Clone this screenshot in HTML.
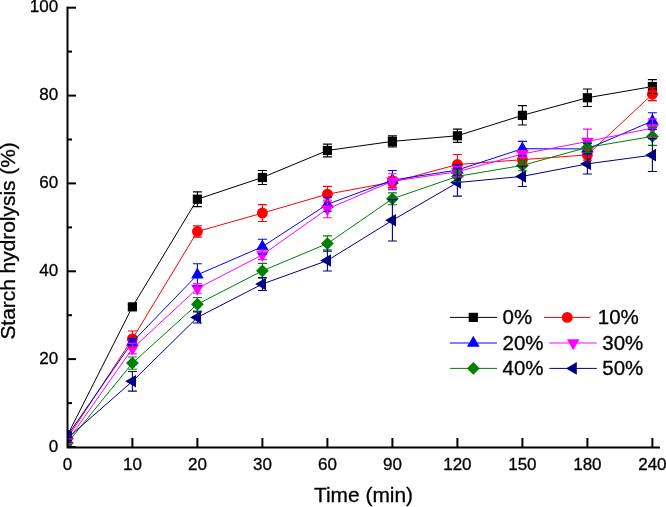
<!DOCTYPE html>
<html><head><meta charset="utf-8"><style>
html,body{margin:0;padding:0;background:#fff;}
svg{display:block;will-change:transform;}
text{font-family:"Liberation Sans",sans-serif;fill:#000;stroke:#000;stroke-width:0.3px;}
.t{font-size:17px;}
.a{font-size:20.9px;}
.l{font-size:20.5px;}
</style></head><body>
<svg width="666" height="507" viewBox="0 0 666 507">
<rect width="666" height="507" fill="#fff"/>
<defs><clipPath id="pc"><rect x="67" y="0" width="600" height="448"/></clipPath></defs>
<g clip-path="url(#pc)">
<polyline points="67.40,435.31 132.40,306.86 197.40,199.23 262.40,177.49 327.40,150.47 392.40,141.38 457.40,135.76 522.40,115.33 587.40,97.76 652.40,86.55" fill="none" stroke="#000000" stroke-width="1.0"/>
<rect x="62.80" y="430.71" width="9.2" height="9.2" fill="#000000"/>
<rect x="127.80" y="302.26" width="9.2" height="9.2" fill="#000000"/>
<rect x="192.80" y="194.63" width="9.2" height="9.2" fill="#000000"/>
<rect x="257.80" y="172.89" width="9.2" height="9.2" fill="#000000"/>
<rect x="322.80" y="145.87" width="9.2" height="9.2" fill="#000000"/>
<rect x="387.80" y="136.78" width="9.2" height="9.2" fill="#000000"/>
<rect x="452.80" y="131.16" width="9.2" height="9.2" fill="#000000"/>
<rect x="517.80" y="110.73" width="9.2" height="9.2" fill="#000000"/>
<rect x="582.80" y="93.16" width="9.2" height="9.2" fill="#000000"/>
<rect x="647.80" y="81.95" width="9.2" height="9.2" fill="#000000"/>
<polyline points="67.40,438.21 132.40,338.93 197.40,231.52 262.40,213.07 327.40,194.18 392.40,182.10 457.40,164.53 522.40,159.70 587.40,154.87 652.40,94.24" fill="none" stroke="#ff0000" stroke-width="1.0"/>
<circle cx="67.40" cy="438.21" r="5.45" fill="#ff0000"/>
<circle cx="132.40" cy="338.93" r="5.45" fill="#ff0000"/>
<circle cx="197.40" cy="231.52" r="5.45" fill="#ff0000"/>
<circle cx="262.40" cy="213.07" r="5.45" fill="#ff0000"/>
<circle cx="327.40" cy="194.18" r="5.45" fill="#ff0000"/>
<circle cx="392.40" cy="182.10" r="5.45" fill="#ff0000"/>
<circle cx="457.40" cy="164.53" r="5.45" fill="#ff0000"/>
<circle cx="522.40" cy="159.70" r="5.45" fill="#ff0000"/>
<circle cx="587.40" cy="154.87" r="5.45" fill="#ff0000"/>
<circle cx="652.40" cy="94.24" r="5.45" fill="#ff0000"/>
<polyline points="67.40,435.58 132.40,342.01 197.40,274.79 262.40,246.68 327.40,204.29 392.40,180.13 457.40,170.02 522.40,148.72 587.40,148.93 652.40,121.04" fill="none" stroke="#0000ff" stroke-width="1.0"/>
<polygon points="67.40,428.31 73.70,439.21 61.10,439.21" fill="#0000ff"/>
<polygon points="132.40,334.74 138.70,345.64 126.10,345.64" fill="#0000ff"/>
<polygon points="197.40,267.53 203.70,278.43 191.10,278.43" fill="#0000ff"/>
<polygon points="262.40,239.41 268.70,250.31 256.10,250.31" fill="#0000ff"/>
<polygon points="327.40,197.02 333.70,207.92 321.10,207.92" fill="#0000ff"/>
<polygon points="392.40,172.86 398.70,183.76 386.10,183.76" fill="#0000ff"/>
<polygon points="457.40,162.75 463.70,173.65 451.10,173.65" fill="#0000ff"/>
<polygon points="522.40,141.45 528.70,152.35 516.10,152.35" fill="#0000ff"/>
<polygon points="587.40,141.67 593.70,152.57 581.10,152.57" fill="#0000ff"/>
<polygon points="652.40,113.77 658.70,124.67 646.10,124.67" fill="#0000ff"/>
<polyline points="67.40,441.29 132.40,348.60 197.40,288.41 262.40,254.81 327.40,208.90 392.40,181.22 457.40,171.78 522.40,153.99 587.40,141.47 652.40,128.07" fill="none" stroke="#ff00ff" stroke-width="1.0"/>
<polygon points="67.40,448.56 73.70,437.66 61.10,437.66" fill="#ff00ff"/>
<polygon points="132.40,355.86 138.70,344.96 126.10,344.96" fill="#ff00ff"/>
<polygon points="197.40,295.68 203.70,284.78 191.10,284.78" fill="#ff00ff"/>
<polygon points="262.40,262.07 268.70,251.17 256.10,251.17" fill="#ff00ff"/>
<polygon points="327.40,216.17 333.70,205.27 321.10,205.27" fill="#ff00ff"/>
<polygon points="392.40,188.49 398.70,177.59 386.10,177.59" fill="#ff00ff"/>
<polygon points="457.40,179.05 463.70,168.15 451.10,168.15" fill="#ff00ff"/>
<polygon points="522.40,161.25 528.70,150.35 516.10,150.35" fill="#ff00ff"/>
<polygon points="587.40,148.73 593.70,137.83 581.10,137.83" fill="#ff00ff"/>
<polygon points="652.40,135.33 658.70,124.43 646.10,124.43" fill="#ff00ff"/>
<polyline points="67.40,443.05 132.40,363.09 197.40,304.23 262.40,270.84 327.40,243.60 392.40,198.80 457.40,176.39 522.40,165.41 587.40,147.40 652.40,136.41" fill="none" stroke="#008000" stroke-width="1.0"/>
<polygon points="67.40,436.65 73.80,443.05 67.40,449.45 61.00,443.05" fill="#008000"/>
<polygon points="132.40,356.69 138.80,363.09 132.40,369.49 126.00,363.09" fill="#008000"/>
<polygon points="197.40,297.83 203.80,304.23 197.40,310.63 191.00,304.23" fill="#008000"/>
<polygon points="262.40,264.44 268.80,270.84 262.40,277.24 256.00,270.84" fill="#008000"/>
<polygon points="327.40,237.20 333.80,243.60 327.40,250.00 321.00,243.60" fill="#008000"/>
<polygon points="392.40,192.40 398.80,198.80 392.40,205.20 386.00,198.80" fill="#008000"/>
<polygon points="457.40,169.99 463.80,176.39 457.40,182.79 451.00,176.39" fill="#008000"/>
<polygon points="522.40,159.01 528.80,165.41 522.40,171.81 516.00,165.41" fill="#008000"/>
<polygon points="587.40,141.00 593.80,147.40 587.40,153.80 581.00,147.40" fill="#008000"/>
<polygon points="652.40,130.01 658.80,136.41 652.40,142.81 646.00,136.41" fill="#008000"/>
<polyline points="67.40,438.21 132.40,381.32 197.40,317.41 262.40,284.02 327.40,260.52 392.40,220.32 457.40,182.54 522.40,176.39 587.40,163.87 652.40,155.09" fill="none" stroke="#000080" stroke-width="1.0"/>
<polygon points="60.13,438.21 71.03,431.91 71.03,444.51" fill="#000080"/>
<polygon points="125.13,381.32 136.03,375.02 136.03,387.62" fill="#000080"/>
<polygon points="190.13,317.41 201.03,311.11 201.03,323.71" fill="#000080"/>
<polygon points="255.13,284.02 266.03,277.72 266.03,290.32" fill="#000080"/>
<polygon points="320.13,260.52 331.03,254.22 331.03,266.82" fill="#000080"/>
<polygon points="385.13,220.32 396.03,214.02 396.03,226.62" fill="#000080"/>
<polygon points="450.13,182.54 461.03,176.24 461.03,188.84" fill="#000080"/>
<polygon points="515.13,176.39 526.03,170.09 526.03,182.69" fill="#000080"/>
<polygon points="580.13,163.87 591.03,157.57 591.03,170.17" fill="#000080"/>
<polygon points="645.13,155.09 656.03,148.79 656.03,161.39" fill="#000080"/>
<path d="M67.40 433.12V437.51M62.90 433.12H71.90M62.90 437.51H71.90" stroke="#000000" stroke-width="1.1" fill="none"/>
<path d="M132.40 304.23V309.50M127.90 304.23H136.90M127.90 309.50H136.90" stroke="#000000" stroke-width="1.1" fill="none"/>
<path d="M197.40 191.85V206.62M192.90 191.85H201.90M192.90 206.62H201.90" stroke="#000000" stroke-width="1.1" fill="none"/>
<path d="M262.40 170.46V184.52M257.90 170.46H266.90M257.90 184.52H266.90" stroke="#000000" stroke-width="1.1" fill="none"/>
<path d="M327.40 144.10V156.84M322.90 144.10H331.90M322.90 156.84H331.90" stroke="#000000" stroke-width="1.1" fill="none"/>
<path d="M392.40 135.89V146.87M387.90 135.89H396.90M387.90 146.87H396.90" stroke="#000000" stroke-width="1.1" fill="none"/>
<path d="M457.40 129.17V142.35M452.90 129.17H461.90M452.90 142.35H461.90" stroke="#000000" stroke-width="1.1" fill="none"/>
<path d="M522.40 105.66V124.99M517.90 105.66H526.90M517.90 124.99H526.90" stroke="#000000" stroke-width="1.1" fill="none"/>
<path d="M587.40 88.97V106.54M582.90 88.97H591.90M582.90 106.54H591.90" stroke="#000000" stroke-width="1.1" fill="none"/>
<path d="M652.40 79.66V93.45M647.90 79.66H656.90M647.90 93.45H656.90" stroke="#000000" stroke-width="1.1" fill="none"/>
<path d="M67.40 436.02V440.41M62.90 436.02H71.90M62.90 440.41H71.90" stroke="#ff0000" stroke-width="1.1" fill="none"/>
<path d="M132.40 331.02V346.84M127.90 331.02H136.90M127.90 346.84H136.90" stroke="#ff0000" stroke-width="1.1" fill="none"/>
<path d="M197.40 225.90V237.15M192.90 225.90H201.90M192.90 237.15H201.90" stroke="#ff0000" stroke-width="1.1" fill="none"/>
<path d="M262.40 204.59V221.55M257.90 204.59H266.90M257.90 221.55H266.90" stroke="#ff0000" stroke-width="1.1" fill="none"/>
<path d="M327.40 186.41V201.96M322.90 186.41H331.90M322.90 201.96H331.90" stroke="#ff0000" stroke-width="1.1" fill="none"/>
<path d="M392.40 176.83V187.37M387.90 176.83H396.90M387.90 187.37H396.90" stroke="#ff0000" stroke-width="1.1" fill="none"/>
<path d="M457.40 154.43V174.63M452.90 154.43H461.90M452.90 174.63H461.90" stroke="#ff0000" stroke-width="1.1" fill="none"/>
<path d="M522.40 155.30V164.09M517.90 155.30H526.90M517.90 164.09H526.90" stroke="#ff0000" stroke-width="1.1" fill="none"/>
<path d="M587.40 149.59V160.14M582.90 149.59H591.90M582.90 160.14H591.90" stroke="#ff0000" stroke-width="1.1" fill="none"/>
<path d="M652.40 87.87V100.61M647.90 87.87H656.90M647.90 100.61H656.90" stroke="#ff0000" stroke-width="1.1" fill="none"/>
<path d="M67.40 433.38V437.77M62.90 433.38H71.90M62.90 437.77H71.90" stroke="#0000ff" stroke-width="1.1" fill="none"/>
<path d="M132.40 338.49V345.52M127.90 338.49H136.90M127.90 345.52H136.90" stroke="#0000ff" stroke-width="1.1" fill="none"/>
<path d="M197.40 263.81V285.78M192.90 263.81H201.90M192.90 285.78H201.90" stroke="#0000ff" stroke-width="1.1" fill="none"/>
<path d="M262.40 239.21V254.15M257.90 239.21H266.90M257.90 254.15H266.90" stroke="#0000ff" stroke-width="1.1" fill="none"/>
<path d="M327.40 197.26V211.32M322.90 197.26H331.90M322.90 211.32H331.90" stroke="#0000ff" stroke-width="1.1" fill="none"/>
<path d="M392.40 170.46V189.79M387.90 170.46H396.90M387.90 189.79H396.90" stroke="#0000ff" stroke-width="1.1" fill="none"/>
<path d="M457.40 164.75V175.29M452.90 164.75H461.90M452.90 175.29H461.90" stroke="#0000ff" stroke-width="1.1" fill="none"/>
<path d="M522.40 141.42V156.01M517.90 141.42H526.90M517.90 156.01H526.90" stroke="#0000ff" stroke-width="1.1" fill="none"/>
<path d="M587.40 143.66V154.21M582.90 143.66H591.90M582.90 154.21H591.90" stroke="#0000ff" stroke-width="1.1" fill="none"/>
<path d="M652.40 112.69V129.39M647.90 112.69H656.90M647.90 129.39H656.90" stroke="#0000ff" stroke-width="1.1" fill="none"/>
<path d="M67.40 439.09V443.49M62.90 439.09H71.90M62.90 443.49H71.90" stroke="#ff00ff" stroke-width="1.1" fill="none"/>
<path d="M132.40 343.33V353.87M127.90 343.33H136.90M127.90 353.87H136.90" stroke="#ff00ff" stroke-width="1.1" fill="none"/>
<path d="M197.40 283.58V293.25M192.90 283.58H201.90M192.90 293.25H201.90" stroke="#ff00ff" stroke-width="1.1" fill="none"/>
<path d="M262.40 249.97V259.64M257.90 249.97H266.90M257.90 259.64H266.90" stroke="#ff00ff" stroke-width="1.1" fill="none"/>
<path d="M327.40 200.11V217.69M322.90 200.11H331.90M322.90 217.69H331.90" stroke="#ff00ff" stroke-width="1.1" fill="none"/>
<path d="M392.40 173.76V188.69M387.90 173.76H396.90M387.90 188.69H396.90" stroke="#ff00ff" stroke-width="1.1" fill="none"/>
<path d="M457.40 166.51V177.05M452.90 166.51H461.90M452.90 177.05H461.90" stroke="#ff00ff" stroke-width="1.1" fill="none"/>
<path d="M522.40 150.47V157.50M517.90 150.47H526.90M517.90 157.50H526.90" stroke="#ff00ff" stroke-width="1.1" fill="none"/>
<path d="M587.40 129.17V153.77M582.90 129.17H591.90M582.90 153.77H591.90" stroke="#ff00ff" stroke-width="1.1" fill="none"/>
<path d="M652.40 118.84V137.29M647.90 118.84H656.90M647.90 137.29H656.90" stroke="#ff00ff" stroke-width="1.1" fill="none"/>
<path d="M67.40 440.85V445.24M62.90 440.85H71.90M62.90 445.24H71.90" stroke="#008000" stroke-width="1.1" fill="none"/>
<path d="M132.40 356.94V369.24M127.90 356.94H136.90M127.90 369.24H136.90" stroke="#008000" stroke-width="1.1" fill="none"/>
<path d="M197.40 297.51V310.95M192.90 297.51H201.90M192.90 310.95H201.90" stroke="#008000" stroke-width="1.1" fill="none"/>
<path d="M262.40 263.37V278.31M257.90 263.37H266.90M257.90 278.31H266.90" stroke="#008000" stroke-width="1.1" fill="none"/>
<path d="M327.40 235.87V251.34M322.90 235.87H331.90M322.90 251.34H331.90" stroke="#008000" stroke-width="1.1" fill="none"/>
<path d="M392.40 192.91V204.68M387.90 192.91H396.90M387.90 204.68H396.90" stroke="#008000" stroke-width="1.1" fill="none"/>
<path d="M457.40 171.12V181.66M452.90 171.12H461.90M452.90 181.66H461.90" stroke="#008000" stroke-width="1.1" fill="none"/>
<path d="M522.40 160.14V170.68M517.90 160.14H526.90M517.90 170.68H526.90" stroke="#008000" stroke-width="1.1" fill="none"/>
<path d="M587.40 142.13V152.67M582.90 142.13H591.90M582.90 152.67H591.90" stroke="#008000" stroke-width="1.1" fill="none"/>
<path d="M652.40 127.41V145.42M647.90 127.41H656.90M647.90 145.42H656.90" stroke="#008000" stroke-width="1.1" fill="none"/>
<path d="M67.40 436.02V440.41M62.90 436.02H71.90M62.90 440.41H71.90" stroke="#000080" stroke-width="1.1" fill="none"/>
<path d="M132.40 371.48V391.16M127.90 371.48H136.90M127.90 391.16H136.90" stroke="#000080" stroke-width="1.1" fill="none"/>
<path d="M197.40 311.83V322.99M192.90 311.83H201.90M192.90 322.99H201.90" stroke="#000080" stroke-width="1.1" fill="none"/>
<path d="M262.40 277.52V290.52M257.90 277.52H266.90M257.90 290.52H266.90" stroke="#000080" stroke-width="1.1" fill="none"/>
<path d="M327.40 249.97V271.06M322.90 249.97H331.90M322.90 271.06H331.90" stroke="#000080" stroke-width="1.1" fill="none"/>
<path d="M392.40 199.67V240.97M387.90 199.67H396.90M387.90 240.97H396.90" stroke="#000080" stroke-width="1.1" fill="none"/>
<path d="M457.40 168.92V196.16M452.90 168.92H461.90M452.90 196.16H461.90" stroke="#000080" stroke-width="1.1" fill="none"/>
<path d="M522.40 166.29V186.50M517.90 166.29H526.90M517.90 186.50H526.90" stroke="#000080" stroke-width="1.1" fill="none"/>
<path d="M587.40 153.77V173.98M582.90 153.77H591.90M582.90 173.98H591.90" stroke="#000080" stroke-width="1.1" fill="none"/>
<path d="M652.40 138.61V171.56M647.90 138.61H656.90M647.90 171.56H656.90" stroke="#000080" stroke-width="1.1" fill="none"/>
</g>
<path d="M67.5 6.7V447.5H660" stroke="#000" stroke-width="2" fill="none"/>
<path d="M67 447.0H76" stroke="#000" stroke-width="2"/>
<path d="M67 403.1H72" stroke="#000" stroke-width="2"/>
<path d="M67 359.1H76" stroke="#000" stroke-width="2"/>
<path d="M67 315.2H72" stroke="#000" stroke-width="2"/>
<path d="M67 271.3H76" stroke="#000" stroke-width="2"/>
<path d="M67 227.4H72" stroke="#000" stroke-width="2"/>
<path d="M67 183.4H76" stroke="#000" stroke-width="2"/>
<path d="M67 139.5H72" stroke="#000" stroke-width="2"/>
<path d="M67 95.6H76" stroke="#000" stroke-width="2"/>
<path d="M67 51.6H72" stroke="#000" stroke-width="2"/>
<path d="M67 7.7H76" stroke="#000" stroke-width="2"/>
<path d="M132.4 447V438" stroke="#000" stroke-width="2"/>
<path d="M197.4 447V438" stroke="#000" stroke-width="2"/>
<path d="M262.4 447V438" stroke="#000" stroke-width="2"/>
<path d="M327.4 447V438" stroke="#000" stroke-width="2"/>
<path d="M392.4 447V438" stroke="#000" stroke-width="2"/>
<path d="M457.4 447V438" stroke="#000" stroke-width="2"/>
<path d="M522.4 447V438" stroke="#000" stroke-width="2"/>
<path d="M587.4 447V438" stroke="#000" stroke-width="2"/>
<path d="M652.4 447V438" stroke="#000" stroke-width="2"/>
<text x="58.1" y="451.6" text-anchor="end" class="t">0</text>
<text x="58.1" y="363.7" text-anchor="end" class="t">20</text>
<text x="58.1" y="275.9" text-anchor="end" class="t">40</text>
<text x="58.1" y="188.0" text-anchor="end" class="t">60</text>
<text x="58.1" y="100.2" text-anchor="end" class="t">80</text>
<text x="58.1" y="12.3" text-anchor="end" class="t">100</text>
<text x="67.4" y="469.6" text-anchor="middle" class="t">0</text>
<text x="132.4" y="469.6" text-anchor="middle" class="t">10</text>
<text x="197.4" y="469.6" text-anchor="middle" class="t">20</text>
<text x="262.4" y="469.6" text-anchor="middle" class="t">30</text>
<text x="327.4" y="469.6" text-anchor="middle" class="t">60</text>
<text x="392.4" y="469.6" text-anchor="middle" class="t">90</text>
<text x="457.4" y="469.6" text-anchor="middle" class="t">120</text>
<text x="522.4" y="469.6" text-anchor="middle" class="t">150</text>
<text x="587.4" y="469.6" text-anchor="middle" class="t">180</text>
<text x="652.4" y="469.6" text-anchor="middle" class="t">240</text>
<text x="363.5" y="502.4" text-anchor="middle" class="a">Time (min)</text>
<text transform="translate(15.4 240.9) rotate(-90)" text-anchor="middle" class="a">Starch hydrolysis (%)</text>
<path d="M450 317.4H497" stroke="#000000" stroke-width="1.0"/>
<rect x="468.70" y="312.80" width="9.2" height="9.2" fill="#000000"/>
<text x="502.5" y="324.2" class="l">0%</text>
<path d="M544 317.4H590.5" stroke="#ff0000" stroke-width="1.0"/>
<circle cx="567.20" cy="317.40" r="5.45" fill="#ff0000"/>
<text x="597.8" y="324.2" class="l">10%</text>
<path d="M450 343.0H497" stroke="#0000ff" stroke-width="1.0"/>
<polygon points="473.30,335.73 479.60,346.63 467.00,346.63" fill="#0000ff"/>
<text x="502.5" y="349.8" class="l">20%</text>
<path d="M549.4 343.0H596.8" stroke="#ff00ff" stroke-width="1.0"/>
<polygon points="573.20,350.27 579.50,339.37 566.90,339.37" fill="#ff00ff"/>
<text x="602.3" y="349.8" class="l">30%</text>
<path d="M450 368.4H497" stroke="#008000" stroke-width="1.0"/>
<polygon points="473.30,362.00 479.70,368.40 473.30,374.80 466.90,368.40" fill="#008000"/>
<text x="502.5" y="375.2" class="l">40%</text>
<path d="M549.4 368.4H596.8" stroke="#000080" stroke-width="1.0"/>
<polygon points="565.93,368.40 576.83,362.10 576.83,374.70" fill="#000080"/>
<text x="602.3" y="375.2" class="l">50%</text>
</svg>
</body></html>
